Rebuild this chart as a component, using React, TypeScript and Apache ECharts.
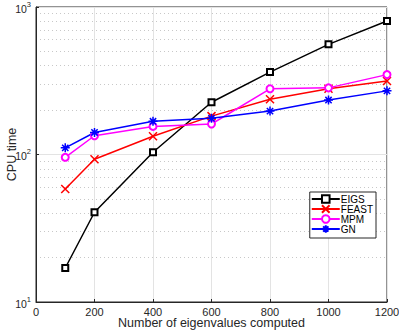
import React, { useEffect, useRef } from "react";
import * as echarts from "echarts";

const xValues = [100, 200, 400, 600, 800, 1000, 1200];
const eigs = [17, 40.6, 103.5, 226, 362, 558, 804];
const feast = [58.4, 92.8, 133, 182, 237, 279, 315];
const mpm = [95.7, 134, 155, 161, 279, 283, 348];
const gn = [111, 141, 168, 176, 197, 234, 270];
const minorGrid = [20, 30, 40, 50, 60, 70, 80, 90, 200, 300, 400, 500, 600, 700, 800, 900];
const xTicks = { min: 0, max: 1200, interval: 200 };

const FONT = "Liberation Sans, Arial, Helvetica, sans-serif";
const xSym = "path://M0,0L10,10M10,0L0,10";
const starSym = "path://M5,0L5,10M0,5L10,5M1.5,1.5L8.5,8.5M8.5,1.5L1.5,8.5";

export default function App() {
  const ref = useRef<HTMLDivElement>(null);
  useEffect(() => {
    const chart = echarts.init(ref.current!, null, { renderer: "svg" });
    const mk = (name: string, data: number[], color: string, symbol: string, size: number, extra: any = {}) => ({
      name,
      type: "line",
      data: xValues.map((x, i) => [x, data[i]]),
      symbol,
      symbolSize: size,
      lineStyle: { color, width: 1.5 },
      itemStyle: { color, borderColor: color, borderWidth: 1.5 },
      ...extra,
    });
    chart.setOption({
      animation: false,
      textStyle: { fontFamily: FONT },
      grid: {
        left: 36, top: 7, right: 12, bottom: 30,
        containLabel: false, outerBoundsMode: "none",
        show: true, borderColor: "#262626", borderWidth: 1, backgroundColor: "#fff",
      },
      legend: {
        orient: "vertical",
        right: 23,
        top: 192,
        itemWidth: 28,
        itemHeight: 9.5,
        itemGap: 0,
        padding: [2, 3, 4, 1],
        backgroundColor: "#fff",
        borderColor: "#262626",
        borderWidth: 1,
        borderRadius: 0,
        textStyle: { fontSize: 10, lineHeight: 9.5, color: "#000", padding: [0, 0, 0, -4] },
        data: ["EIGS", "FEAST", "MPM", "GN"],
      },
      xAxis: {
        type: "value",
        ...xTicks,
        name: "Number of eigenvalues computed",
        nameLocation: "middle",
        nameGap: 15,
        nameMoveOverlap: false,
        nameTextStyle: { fontSize: 12.5, lineHeight: 12, color: "#262626", verticalAlign: "top" },
        axisLine: { show: true, lineStyle: { color: "#262626" } },
        axisTick: { show: true, inside: true, length: 3, lineStyle: { color: "#262626" } },
        axisLabel: { fontSize: 11, lineHeight: 11, color: "#262626", margin: 4, formatter: (v: number) => String(v) },
        splitLine: { show: true, lineStyle: { color: "#e3e3e3", width: 1 } },
      },
      yAxis: {
        type: "log",
        logBase: 10,
        min: 10,
        max: 1000,
        name: "CPU time",
        nameLocation: "middle",
        nameGap: 18,
        nameMoveOverlap: false,
        nameTextStyle: { fontSize: 12.5, color: "#262626" },
        axisLine: { show: true, lineStyle: { color: "#262626" } },
        axisTick: { show: true, inside: true, length: 3, lineStyle: { color: "#262626" } },
        axisLabel: {
          margin: 5,
          color: "#262626",
          formatter: (v: number) => `{b|10}{s|${Math.round(Math.log10(v))}}`,
          rich: {
            b: { fontSize: 10.5, color: "#262626", verticalAlign: "bottom" },
            s: { fontSize: 7.5, color: "#262626", verticalAlign: "bottom", padding: [0, 0, 6, 0] },
          },
        },
        splitLine: { show: true, lineStyle: { color: "#e3e3e3", width: 1 } },
      },
      series: [
        mk("EIGS", eigs, "#000000", "emptyRect", 6, {
          markLine: {
            silent: true,
            symbol: "none",
            label: { show: false },
            lineStyle: { color: "#c8c8c8", type: [1, 3], width: 1 },
            data: minorGrid.map((v) => ({ yAxis: v })),
            z: 0,
          },
        }),
        mk("FEAST", feast, "#ff0000", xSym, 8),
        mk("MPM", mpm, "#ff00ff", "emptyCircle", 7),
        mk("GN", gn, "#0000ff", starSym, 9),
      ],
    });
    return () => chart.dispose();
  }, []);
  return <div ref={ref} style={{ width: 399, height: 332, position: "absolute", left: 0, top: 0 }} />;
}
